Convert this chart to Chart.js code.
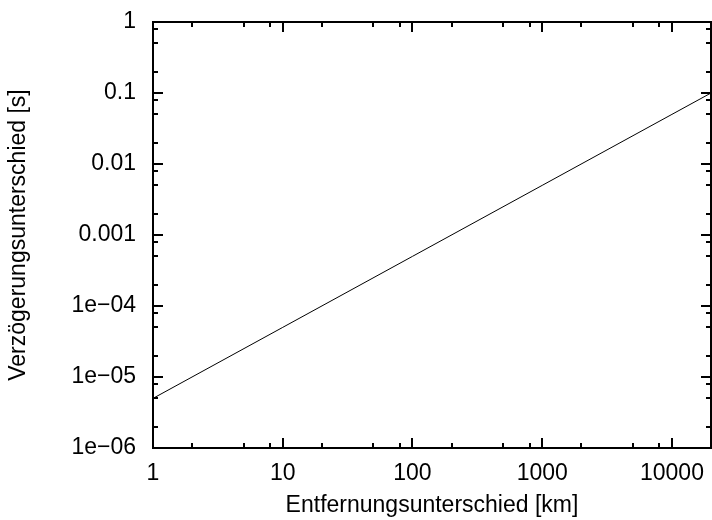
<!DOCTYPE html>
<html>
<head>
<meta charset="utf-8">
<script src="https://cdn.jsdelivr.net/npm/chart.js@4.4.1/dist/chart.umd.min.js"></script>
<style>
  html, body { margin: 0; padding: 0; background: #fff; }
  #chart { display: block; }
</style>
</head>
<body>
<canvas id="chart" width="712" height="520"></canvas>
<script>
// distance difference in km vs. delay difference in s
var distances = [1, 10, 100, 1000, 10000, 20000];
var delays = [5e-6, 5e-5, 5e-4, 5e-3, 0.05, 0.1];

var xTickValues = [1, 10, 100, 1000, 10000];
var xTickLabels = ['1', '10', '100', '1000', '10000'];
var yTickValues = [1e-6, 1e-5, 1e-4, 1e-3, 1e-2, 1e-1, 1];
var yTickLabels = ['1e\u221206', '1e\u221205', '1e\u221204', '0.001', '0.01', '0.1', '1'];
var minorSteps = [2, 5, 8];

var FONT = { family: '"Liberation Sans", Arial, sans-serif', size: 23 };

function minorValues(lo, hi) {
	var out = [];
	for (var d = lo; d < hi; d *= 10) {
		minorSteps.forEach(function(m) {
			var v = m * d;
			if (v < hi) out.push(v);
		});
	}
	return out;
}

function labelFor(values, labels, v) {
	for (var i = 0; i < values.length; i++) {
		if (Math.abs(Math.log10(values[i]) - Math.log10(v)) < 1e-6) return labels[i];
	}
	return '';
}

// no extra room for overhanging labels, the frame sits where the padding says
function noLabelPadding(scale) {
	scale.paddingLeft = 0;
	scale.paddingRight = 0;
	scale.paddingTop = 0;
	scale.paddingBottom = 0;
}

// gnuplot-like frame with inward ticks on all four sides
var framePlugin = {
	id: 'frame',
	afterDatasetsDraw: function(chart) {
		var ctx = chart.ctx;
		var a = chart.chartArea;
		var xs = chart.scales.x, ys = chart.scales.y;
		ctx.save();
		ctx.strokeStyle = '#000';
		ctx.lineWidth = 2;
		ctx.beginPath();
		xTickValues.concat(minorValues(1, 20000)).forEach(function(v) {
			var len = xTickValues.indexOf(v) >= 0 ? 10 : 5;
			var px = Math.round(xs.getPixelForValue(v));
			ctx.moveTo(px, a.bottom); ctx.lineTo(px, a.bottom - len);
			ctx.moveTo(px, a.top); ctx.lineTo(px, a.top + len);
		});
		yTickValues.concat(minorValues(1e-6, 1)).forEach(function(v) {
			var len = yTickValues.indexOf(v) >= 0 ? 10 : 5;
			var py = Math.round(ys.getPixelForValue(v));
			ctx.moveTo(a.left, py); ctx.lineTo(a.left + len, py);
			ctx.moveTo(a.right, py); ctx.lineTo(a.right - len, py);
		});
		ctx.stroke();
		ctx.strokeRect(a.left, a.top, a.right - a.left, a.bottom - a.top);
		ctx.restore();
	}
};

var chart = new Chart(document.getElementById('chart'), {
	type: 'scatter',
	data: {
		datasets: [{
			data: distances.map(function(d, i) { return { x: d, y: delays[i] }; }),
			showLine: true,
			borderColor: '#000',
			borderWidth: 1,
			pointRadius: 0,
			tension: 0
		}]
	},
	options: {
		responsive: false,
		animation: false,
		devicePixelRatio: 1,
		layout: { padding: { top: 22, right: 1, left: 0, bottom: 0 } },
		plugins: {
			legend: { display: false },
			tooltip: { enabled: false }
		},
		scales: {
			x: {
				type: 'logarithmic',
				min: 1,
				max: 20000,
				grid: { display: false, drawTicks: false },
				border: { display: false },
				afterBuildTicks: function(scale) {
					scale.ticks = xTickValues.map(function(v) { return { value: v }; });
				},
				afterFit: function(scale) {
					scale.height = 72;
					noLabelPadding(scale);
				},
				ticks: {
					autoSkip: false,
					maxRotation: 0,
					padding: 12,
					color: '#000',
					font: FONT,
					callback: function(v) { return labelFor(xTickValues, xTickLabels, v); }
				},
				title: {
					display: true,
					text: 'Entfernungsunterschied [km]',
					color: '#000',
					font: FONT,
					padding: { top: 0, bottom: 1 }
				}
			},
			y: {
				type: 'logarithmic',
				min: 1e-6,
				max: 1,
				grid: { display: false, drawTicks: false },
				border: { display: false },
				afterBuildTicks: function(scale) {
					scale.ticks = yTickValues.map(function(v) { return { value: v }; });
				},
				afterFit: function(scale) {
					scale.width = 153;
					noLabelPadding(scale);
				},
				ticks: {
					autoSkip: false,
					padding: 17,
					color: '#000',
					font: FONT,
					callback: function(v) { return labelFor(yTickValues, yTickLabels, v); }
				},
				title: {
					display: true,
					text: 'Verzögerungsunterschied [s]',
					color: '#000',
					font: FONT,
					padding: { top: 5, bottom: 0 }
				}
			}
		}
	},
	plugins: [framePlugin]
});
</script>
</body>
</html>
